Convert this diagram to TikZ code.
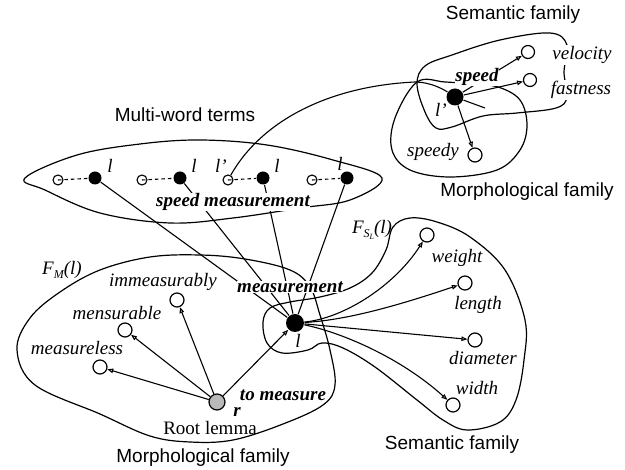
\documentclass[tikz,border=0pt]{standalone}
\usepackage{fontspec}
\setmainfont{Liberation Serif}
\newfontfamily\famfont{Liberation Sans}
\usetikzlibrary{arrows.meta}
\pgfdeclarelayer{bg}
\pgfsetlayers{bg,main}
\begin{document}
\begin{tikzpicture}[x=1pt,y=-1pt,line width=1.1pt,
  base/.style={font=\fontsize{19}{21}\selectfont, inner sep=1pt},
  itl/.style={font=\fontsize{19}{21}\selectfont\itshape, inner sep=1pt},
  bit/.style={font=\fontsize{19}{21}\selectfont\bfseries\itshape, inner sep=0.5pt},
  wbit/.style={bit, fill=white},
  fam/.style={font=\fontsize{19}{21}\selectfont\famfont},
  oc/.style={circle, draw, line width=1.2pt, minimum size=14pt, inner sep=0pt},
  soc/.style={circle, draw, line width=1.1pt, minimum size=10pt, inner sep=0pt},
  fd/.style={circle, fill=black, minimum size=13pt, inner sep=0pt},
  bigdot/.style={circle, fill=black, minimum size=18pt, inner sep=0pt},
  arr/.style={-{Triangle[open,length=6pt,width=4.5pt]}},
  mwdash/.style={dash pattern=on 3.5pt off 3pt},
  famloop/.style={line width=1.2pt}]
\useasboundingbox (0,0) rectangle (625,470);

% family titles
\node[fam] (semT) at (513,15) {Semantic family};
\node[fam] (morR) at (527,192) {Morphological family};
\node[fam] (mwt) at (185,115) {Multi-word terms};
\node[fam] (morL) at (203,458) {Morphological family};
\node[fam] (semB) at (452,445) {Semantic family};

% speed cluster
\node[bigdot, minimum size=17pt] (spd) at (455,97) {};
\node[wbit] (spdlab) at (477,77) {speed};
\node[itl] (lp1) at (441,110) {l'};
\node[oc, minimum size=13pt] (vel) at (528,52) {};
\node[itl, fill=white] (vellab) at (582,55) {velocity};
\node[oc, minimum size=13pt] (fast) at (530,80) {};
\node[itl, fill=white] (fastlab) at (581,90) {fastness};
\node[oc] (spdy) at (475,155) {};
\node[itl] (spdylab) at (433,152) {speedy};
\coordinate (spdtail) at (485,108);

% multi-word terms
\node[soc] (p1o) at (58,180) {};
\node[fd] (p1f) at (95,178) {};
\node[soc] (p2o) at (142,180) {};
\node[fd] (p2f) at (180,178) {};
\node[soc] (p3o) at (228,180) {};
\node[fd] (p3f) at (263,178) {};
\node[soc] (p4o) at (312,180) {};
\node[fd] (p4f) at (347,178) {};
\node[itl] (l1) at (110,166) {l};
\node[itl] (l2) at (194,166) {l};
\node[itl] (l3p) at (221,166) {l'};
\node[itl] (l3) at (277,166) {l};
\node[itl] (l4) at (340,164) {l};
\node[wbit] (smlab) at (233,202) {speed measurement};

% central lemma
\node[bigdot] (ctr) at (295,323) {};
\node[wbit] (ctrlab) at (290,287) {measurement};
\node[itl] (lc) at (298,341) {l};
\node[itl] (fsl) at (372,230) {\textit{F}\raisebox{-4pt}{\fontsize{12}{12}\selectfont\textit{S}\raisebox{-2pt}{\fontsize{8}{8}\selectfont\textit{L}}}(\textit{l})};

% semantic family (lower right)
\node[oc] (wgt) at (427,235) {};
\node[itl] (wgtlab) at (457,258) {weight};
\node[oc] (len) at (465,283) {};
\node[itl] (lenlab) at (478,305) {length};
\node[oc] (dia) at (475,340) {};
\node[itl] (dialab) at (483,358) {diameter};
\node[oc] (wid) at (453,405) {};
\node[itl] (widlab) at (477,388) {width};

% morphological family (lower left)
\node[itl] (fm) at (62,270) {\textit{F}\raisebox{-4pt}{\fontsize{12}{12}\selectfont\textit{M}}(\textit{l})};
\node[oc] (imm) at (177,300) {};
\node[itl] (immlab) at (163,282) {immeasurably};
\node[oc] (men) at (125,330) {};
\node[itl] (menlab) at (117,313) {mensurable};
\node[oc] (mel) at (100,367) {};
\node[itl] (mellab) at (77,348) {measureless};
\node[circle, draw, line width=1.2pt, fill=gray!55, minimum size=16pt, inner sep=0pt] (root) at (217,402) {};
\node[bit] (rlab) at (237,412) {r};
\node[bit] (tom) at (283,395) {to measure};
\node[base] (rootlab) at (210,428) {Root lemma};

\begin{pgfonlayer}{bg}
\begin{scope}[line width=1.1pt]
% loops
\draw[famloop] plot[smooth cycle, tension=0.6] coordinates {(417,84) (425,66) (452,55) (500,40) (550,33) (567,45) (564,72) (567,97) (556,108) (517,113) (483,116) (452,127) (436,128) (425,112)};
\draw[famloop] plot[smooth cycle, tension=0.6] coordinates {(417,82) (445,82) (470,84) (498,87) (520,100) (527,125) (520,150) (497,170) (450,177) (410,170) (392,150) (395,118)};
\draw[famloop] plot[smooth cycle, tension=0.6] coordinates {(25,178) (77,155) (140,144) (200,140) (267,145) (333,160) (382,178) (350,200) (300,208) (233,218) (170,223) (100,213) (45,190)};
\draw[famloop] plot[smooth cycle, tension=0.6] coordinates {(17,350) (30,318) (60,292) (100,270) (150,257) (200,255) (245,259) (290,270) (310,287) (320,315) (330,350) (335,385) (323,405) (283,424) (233,440) (190,442) (150,436) (100,414) (35,385)};
\draw[famloop] plot[smooth cycle, tension=0.6] coordinates {(393,227) (410,218) (437,222) (470,237) (505,270) (525,320) (524,360) (516,400) (500,422) (467,430) (443,420) (417,400) (375,367) (343,348) (322,343) (308,350) (282,353) (267,343) (263,322) (270,308) (290,302) (320,297) (350,288) (372,273) (386,250)};

% multi-word pairs
\draw[mwdash] (p1o.center) -- (p1f);
\draw[mwdash] (p2o.center) -- (p2f);
\draw[mwdash] (p3o.center) -- (p3f);
\draw[mwdash] (p4o.center) -- (p4f);
\draw (p1f) -- (ctr);
\draw (p2f) -- (ctr);
\draw (p3f) -- (ctr);
\draw (p4f) -- (ctr);
\draw (p3o) .. controls (262,120) and (330,86) .. (415,82) .. controls (430,82) and (443,89) .. (spd);

% speed arrows
\draw[arr] (spd) -- (vel);
\draw[arr] (spd) -- (fast);
\draw[arr] (spd) -- (spdy);
\draw (spd) -- (spdtail);

% root arrows
\draw[arr] (root) -- (mel);
\draw[arr] (root) -- (men);
\draw[arr] (root) -- (imm);
\draw[arr] (root) -- (ctr);

% semantic arrows
\draw[arr] (ctr) .. controls (345,318) and (395,285) .. (wgt);
\draw[arr] (ctr) .. controls (350,320) and (405,303) .. (len);
\draw[arr] (ctr) -- (dia);
\draw[arr] (ctr) .. controls (340,332) and (400,357) .. (wid);
\end{scope}
\end{pgfonlayer}
\end{tikzpicture}
\end{document}
